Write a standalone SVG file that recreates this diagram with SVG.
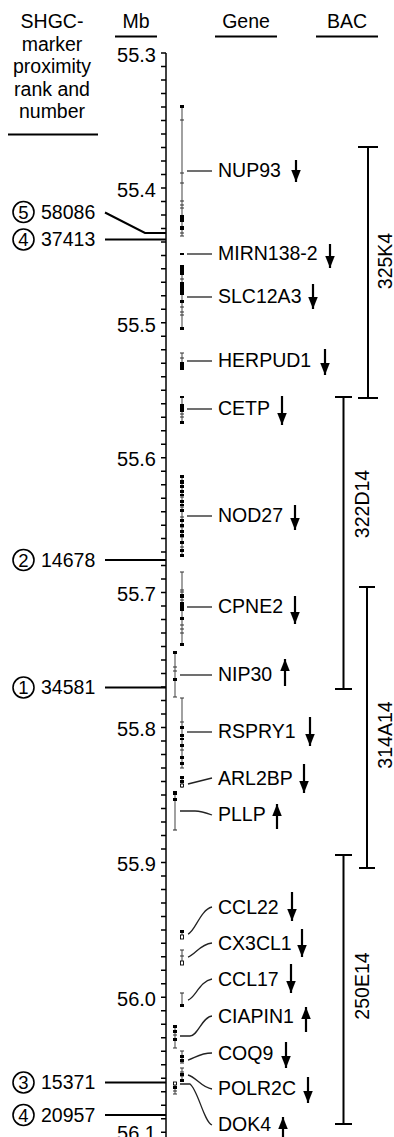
<svg xmlns="http://www.w3.org/2000/svg" width="394" height="1137" viewBox="0 0 394 1137">
<style>
text{font-family:"Liberation Sans",Arial,Helvetica,sans-serif;font-size:19.5px;fill:#000}
.hd{text-anchor:middle}
.tl{text-anchor:end;font-size:20px}
.cn{text-anchor:middle;font-size:18.5px}
.ax{stroke:#000;stroke-width:1.5;fill:none}
.ul{stroke:#000;stroke-width:2}
.ml{stroke:#000;stroke-width:2;fill:none}
.circ{fill:none;stroke:#000;stroke-width:1.6}
.col{stroke:#6e6e6e;stroke-width:1.3}
.cap{stroke:#333;stroke-width:1.1;fill:none}
.sq{fill:#000}
.ho{fill:#fff;stroke:#000;stroke-width:0.9}
.gc{stroke:#222;stroke-width:1.3;fill:none}
.arr{stroke:#000;stroke-width:2.2;marker-end:url(#ah)}
.bac{stroke:#000;stroke-width:2;fill:none}
</style>
<defs>
<marker id="ah" markerUnits="userSpaceOnUse" markerWidth="13" markerHeight="10" refX="12" refY="4.75" orient="auto">
<path d="M0,0 L12,4.75 L0,9.5 z" fill="#000"/>
</marker>
</defs>
<rect width="394" height="1137" fill="#fff"/>

<g id="headers">
<text class="hd" x="52" y="28">SHGC-</text>
<text class="hd" x="52" y="50.5">marker</text>
<text class="hd" x="52" y="73">proximity</text>
<text class="hd" x="52" y="95.5">rank and</text>
<text class="hd" x="52" y="118">number</text>
<line class="ul" x1="8" y1="134.5" x2="98" y2="134.5"/>
<text class="hd" x="136" y="28">Mb</text>
<line class="ul" x1="115" y1="36.5" x2="157" y2="36.5"/>
<text class="hd" x="246" y="28">Gene</text>
<line class="ul" x1="215" y1="36.5" x2="277" y2="36.5"/>
<text class="hd" x="347" y="28">BAC</text>
<line class="ul" x1="316" y1="36.5" x2="378" y2="36.5"/>
</g>

<g id="axis">
<line class="ax" x1="166" y1="53" x2="166" y2="1137"/>
<path class="ax" d="M161,53h5M161,66.5h5M161,80h5M161,93.5h5M161,107h5M161,120.5h5M161,133.9h5M161,147.4h5M161,160.9h5M161,174.4h5M161,187.9h5M161,201.4h5M161,214.9h5M161,228.4h5M161,241.9h5M161,255.4h5M161,268.8h5M161,282.3h5M161,295.8h5M161,309.3h5M161,322.8h5M161,336.3h5M161,349.8h5M161,363.3h5M161,376.8h5M161,390.3h5M161,403.7h5M161,417.2h5M161,430.7h5M161,444.2h5M161,457.7h5M161,471.2h5M161,484.7h5M161,498.2h5M161,511.7h5M161,525.2h5M161,538.6h5M161,552.1h5M161,565.6h5M161,579.1h5M161,592.6h5M161,606.1h5M161,619.6h5M161,633.1h5M161,646.6h5M161,660.1h5M161,673.5h5M161,687h5M161,700.5h5M161,714h5M161,727.5h5M161,741h5M161,754.5h5M161,768h5M161,781.5h5M161,795h5M161,808.4h5M161,821.9h5M161,835.4h5M161,848.9h5M161,862.4h5M161,875.9h5M161,889.4h5M161,902.9h5M161,916.4h5M161,929.9h5M161,943.3h5M161,956.8h5M161,970.3h5M161,983.8h5M161,997.3h5M161,1010.8h5M161,1024.3h5M161,1037.8h5M161,1051.3h5M161,1064.8h5M161,1078.2h5M161,1091.7h5M161,1105.2h5M161,1118.7h5M161,1132.2h5"/>
<text class="tl" x="156" y="61.5">55.3</text>
<text class="tl" x="156" y="196.5">55.4</text>
<text class="tl" x="156" y="331.5">55.5</text>
<text class="tl" x="156" y="466">55.6</text>
<text class="tl" x="156" y="601">55.7</text>
<text class="tl" x="156" y="736">55.8</text>
<text class="tl" x="156" y="870.5">55.9</text>
<text class="tl" x="156" y="1005.5">56.0</text>
<text class="tl" x="156" y="1140">56.1</text>
</g>

<g id="marker-58086">
<circle class="circ" cx="23.5" cy="212" r="10.5"/>
<text class="cn" x="23.5" y="218.5">5</text>
<text x="41" y="218.5">58086</text>
</g>
<g id="marker-37413">
<circle class="circ" cx="23.5" cy="239.5" r="10.5"/>
<text class="cn" x="23.5" y="246">4</text>
<text x="41" y="246">37413</text>
</g>
<g id="marker-14678">
<circle class="circ" cx="23.5" cy="560" r="10.5"/>
<text class="cn" x="23.5" y="566.5">2</text>
<text x="41" y="566.5">14678</text>
</g>
<g id="marker-34581">
<circle class="circ" cx="23.5" cy="687.5" r="10.5"/>
<text class="cn" x="23.5" y="694">1</text>
<text x="41" y="694">34581</text>
</g>
<g id="marker-15371">
<circle class="circ" cx="23.5" cy="1082.5" r="10.5"/>
<text class="cn" x="23.5" y="1089">3</text>
<text x="41" y="1089">15371</text>
</g>
<g id="marker-20957">
<circle class="circ" cx="23.5" cy="1115" r="10.5"/>
<text class="cn" x="23.5" y="1121.5">4</text>
<text x="41" y="1121.5">20957</text>
</g>

<g id="connectors">
<path class="ml" d="M105,212.5 L145,233 L166,233"/>
<path class="ml" d="M105,239.5 L166,239.5"/>
<path class="ml" d="M105,560 L166,560"/>
<path class="ml" d="M105,687.5 L166,687.5"/>
<path class="ml" d="M105,1082.5 L166,1082.5"/>
<path class="ml" d="M105,1115 L166,1115"/>
<path class="gc" d="M187,171H212"/>
<path class="gc" d="M187,254H212"/>
<path class="gc" d="M187,297H212"/>
<path class="gc" d="M187,361H212"/>
<path class="gc" d="M187,409H212"/>
<path class="gc" d="M187,516H212"/>
<path class="gc" d="M187,607H212"/>
<path class="gc" d="M180,675H212"/>
<path class="gc" d="M187,732H212"/>
<path class="gc" d="M188,784L212,778"/>
<path class="gc" d="M180,811L195,811Q201,811 212,815"/>
<path class="gc" d="M188,934C195,932 200,910 212,907"/>
<path class="gc" d="M188,957C195,955 200,944 212,943"/>
<path class="gc" d="M188,1000C195,998 200,981 212,979"/>
<path class="gc" d="M180,1036L190,1036C198,1036 202,1017 212,1016"/>
<path class="gc" d="M188,1060C195,1058 200,1053 212,1053"/>
<path class="gc" d="M188,1075C196,1077 202,1088 212,1089"/>
<path class="gc" d="M180,1084L190,1084C198,1090 204,1122 212,1125"/>
</g>

<g id="gene-NUP93">
<line class="col" x1="182" y1="106" x2="182" y2="236"/>
<path class="cap" d="M180,120h4M180,173h4M180,183h4M180,201h4M180,205h4M180,208h4M180,233h4M180,236h4"/>
<rect class="sq" x="180" y="105" width="4" height="3"/>
<rect class="sq" x="180" y="215" width="4" height="7"/>
<rect class="sq" x="180" y="226" width="4" height="4"/>
<text x="218" y="177">NUP93</text>
<line class="arr" x1="296" y1="160" x2="296" y2="182"/>
</g>
<g id="gene-MIRN138-2">
<rect class="sq" x="180" y="253" width="4" height="2"/>
<text x="218" y="260">MIRN138-2</text>
<line class="arr" x1="330" y1="244" x2="330" y2="268"/>
</g>
<g id="gene-SLC12A3">
<line class="col" x1="182" y1="265" x2="182" y2="329"/>
<path class="cap" d="M180,279h4M180,307h4M180,312h4M180,315h4"/>
<rect class="sq" x="180" y="265" width="4" height="10"/>
<rect class="sq" x="180" y="282" width="4" height="13"/>
<rect class="sq" x="180" y="300" width="4" height="3"/>
<rect class="sq" x="180" y="327" width="4" height="3"/>
<text x="218" y="303">SLC12A3</text>
<line class="arr" x1="313" y1="284" x2="313" y2="309"/>
</g>
<g id="gene-HERPUD1">
<line class="col" x1="182" y1="353" x2="182" y2="370"/>
<path class="cap" d="M180,353h4M180,358h4"/>
<rect class="sq" x="180" y="362" width="4" height="8"/>
<text x="218" y="367">HERPUD1</text>
<line class="arr" x1="325" y1="349" x2="325" y2="375"/>
</g>
<g id="gene-CETP">
<line class="col" x1="182" y1="396" x2="182" y2="424"/>
<path class="cap" d="M180,414h4M180,417h4"/>
<rect class="sq" x="180" y="396" width="4" height="2"/>
<rect class="sq" x="180" y="404" width="4" height="8"/>
<rect class="sq" x="180" y="421" width="4" height="3"/>
<text x="218" y="415">CETP</text>
<line class="arr" x1="282" y1="396" x2="282" y2="425"/>
</g>
<g id="gene-NOD27">
<line class="col" x1="182" y1="475" x2="182" y2="557"/>
<path class="cap" d="M180,487h4M180,497h4M180,507h4M180,517h4M180,527h4M180,537h4M180,547h4"/>
<rect class="sq" x="180" y="475" width="4" height="3"/>
<rect class="sq" x="180" y="480" width="4" height="4"/>
<rect class="sq" x="180" y="485" width="4" height="3"/>
<rect class="sq" x="180" y="490" width="4" height="3"/>
<rect class="sq" x="180" y="494" width="4" height="2"/>
<rect class="sq" x="180" y="500" width="4" height="3"/>
<rect class="sq" x="180" y="504" width="4" height="2"/>
<rect class="sq" x="180" y="509" width="4" height="3"/>
<rect class="sq" x="180" y="519" width="4" height="3"/>
<rect class="sq" x="180" y="524" width="4" height="3"/>
<rect class="sq" x="180" y="530" width="4" height="3"/>
<rect class="sq" x="180" y="534" width="4" height="3"/>
<rect class="sq" x="180" y="541" width="4" height="3"/>
<rect class="sq" x="180" y="549" width="4" height="3"/>
<rect class="sq" x="180" y="554" width="4" height="3"/>
<text x="218" y="522">NOD27</text>
<line class="arr" x1="295" y1="505" x2="295" y2="530"/>
</g>
<g id="gene-CPNE2">
<line class="col" x1="182" y1="572" x2="182" y2="645"/>
<path class="cap" d="M180,572h4M180,590h4M180,592h4M180,600h4M180,625h4M180,629h4M180,633h4"/>
<rect class="sq" x="180" y="594" width="4" height="4"/>
<rect class="sq" x="180" y="602" width="4" height="9"/>
<rect class="sq" x="180" y="617" width="4" height="3"/>
<rect class="sq" x="180" y="643" width="4" height="3"/>
<text x="218" y="613">CPNE2</text>
<line class="arr" x1="295" y1="596" x2="295" y2="624"/>
</g>
<g id="gene-NIP30">
<line class="col" x1="175" y1="653" x2="175" y2="697"/>
<path class="cap" d="M173,667h4M173,671h4M173,697h4"/>
<rect class="sq" x="173" y="651" width="4" height="3"/>
<rect class="sq" x="173" y="678" width="4" height="3"/>
<text x="218" y="681">NIP30</text>
<line class="arr" x1="285" y1="686" x2="285" y2="659"/>
</g>
<g id="gene-RSPRY1">
<line class="col" x1="182" y1="698" x2="182" y2="768"/>
<path class="cap" d="M180,698h4M180,722h4M180,750h4M180,768h4"/>
<rect class="sq" x="180" y="726" width="4" height="3"/>
<rect class="sq" x="180" y="734" width="4" height="3"/>
<rect class="sq" x="180" y="738" width="4" height="2"/>
<rect class="sq" x="180" y="744" width="4" height="3"/>
<rect class="sq" x="180" y="756" width="4" height="3"/>
<rect class="sq" x="180" y="762" width="4" height="3"/>
<text x="218" y="738">RSPRY1</text>
<line class="arr" x1="310" y1="717" x2="310" y2="746"/>
</g>
<g id="gene-ARL2BP">
<line class="col" x1="182" y1="777" x2="182" y2="788"/>
<rect class="sq" x="180" y="776" width="4" height="3"/>
<rect class="sq" x="180" y="780" width="4" height="3"/>
<rect class="ho" x="180.5" y="784" width="3" height="3"/>
<text x="218" y="785">ARL2BP</text>
<line class="arr" x1="304" y1="764" x2="304" y2="793"/>
</g>
<g id="gene-PLLP">
<line class="col" x1="175" y1="792" x2="175" y2="830"/>
<path class="cap" d="M173,830h4"/>
<rect class="sq" x="173" y="791" width="4" height="4"/>
<rect class="sq" x="173" y="798" width="4" height="3"/>
<text x="218" y="821">PLLP</text>
<line class="arr" x1="277" y1="829" x2="277" y2="804"/>
</g>
<g id="gene-CCL22">
<line class="col" x1="182" y1="930" x2="182" y2="939"/>
<rect class="sq" x="180" y="930" width="4" height="3"/>
<rect class="ho" x="180.5" y="935" width="3" height="4"/>
<text x="218" y="914">CCL22</text>
<line class="arr" x1="292" y1="892" x2="292" y2="921"/>
</g>
<g id="gene-CX3CL1">
<line class="col" x1="182" y1="950" x2="182" y2="965"/>
<path class="cap" d="M180,950h4M180,956h4"/>
<rect class="ho" x="180.5" y="961" width="3" height="4"/>
<text x="218" y="950">CX3CL1</text>
<line class="arr" x1="302" y1="929" x2="302" y2="957"/>
</g>
<g id="gene-CCL17">
<line class="col" x1="182" y1="993" x2="182" y2="1006"/>
<path class="cap" d="M180,993h4"/>
<rect class="sq" x="180" y="1004" width="4" height="3"/>
<text x="218" y="986">CCL17</text>
<line class="arr" x1="291" y1="964" x2="291" y2="993"/>
</g>
<g id="gene-CIAPIN1">
<line class="col" x1="175" y1="1026" x2="175" y2="1048"/>
<path class="cap" d="M173,1035h4M173,1048h4"/>
<rect class="sq" x="173" y="1025" width="4" height="3"/>
<rect class="sq" x="173" y="1030" width="4" height="3"/>
<rect class="sq" x="173" y="1038" width="4" height="3"/>
<text x="218" y="1023">CIAPIN1</text>
<line class="arr" x1="306" y1="1032" x2="306" y2="1007"/>
</g>
<g id="gene-COQ9">
<line class="col" x1="182" y1="1051" x2="182" y2="1063"/>
<path class="cap" d="M180,1051h4M180,1063h4"/>
<rect class="sq" x="180" y="1055" width="4" height="3"/>
<rect class="sq" x="180" y="1059" width="4" height="3"/>
<text x="218" y="1060">COQ9</text>
<line class="arr" x1="286" y1="1042" x2="286" y2="1068"/>
</g>
<g id="gene-POLR2C">
<line class="col" x1="182" y1="1068" x2="182" y2="1082"/>
<path class="cap" d="M180,1068h4M180,1072h4M180,1076h4"/>
<rect class="sq" x="180" y="1073" width="4" height="3"/>
<rect class="sq" x="180" y="1079" width="4" height="3"/>
<text x="218" y="1095">POLR2C</text>
<line class="arr" x1="308" y1="1077" x2="308" y2="1103"/>
</g>
<g id="gene-DOK4">
<line class="col" x1="175" y1="1082" x2="175" y2="1094"/>
<path class="cap" d="M173,1091h4M173,1094h4"/>
<rect class="ho" x="173.5" y="1082" width="3" height="3"/>
<rect class="sq" x="173" y="1086" width="4" height="3"/>
<text x="218" y="1131">DOK4</text>
<line class="arr" x1="283" y1="1140" x2="283" y2="1117"/>
</g>

<g id="bac-325K4">
<path class="bac" d="M358,147H378M368,147V398M358,398H378"/>
<text class="hd" x="391.5" y="261" transform="rotate(-90 391.5 261)">325K4</text>
</g>
<g id="bac-322D14">
<path class="bac" d="M335,397H352M343.5,397V689M335,689H352"/>
<text class="hd" x="368.5" y="504" transform="rotate(-90 368.5 504)">322D14</text>
</g>
<g id="bac-314A14">
<path class="bac" d="M359,587H375M367,587V868M359,868H375"/>
<text class="hd" x="391.5" y="735" transform="rotate(-90 391.5 735)">314A14</text>
</g>
<g id="bac-250E14">
<path class="bac" d="M335,855H352M343.5,855V1124M335,1124H352"/>
<text class="hd" x="368.5" y="986" transform="rotate(-90 368.5 986)">250E14</text>
</g>
</svg>
